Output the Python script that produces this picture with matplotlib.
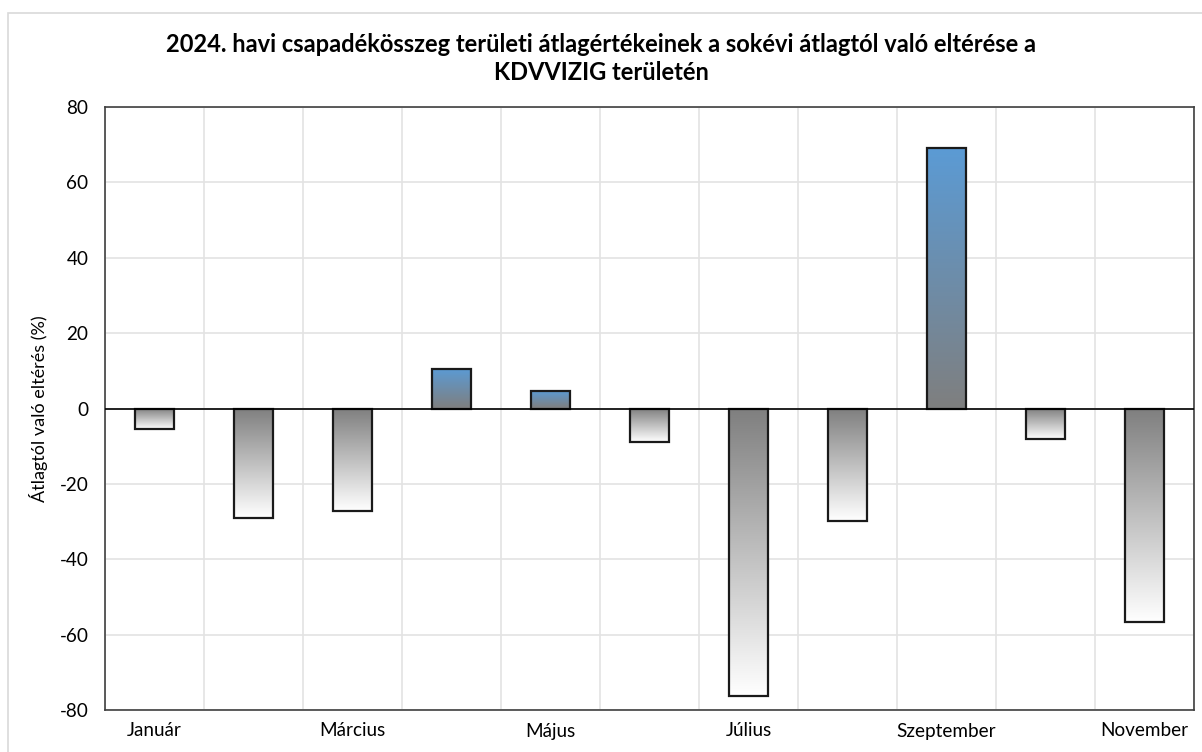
import matplotlib
matplotlib.use("Agg")
import matplotlib.pyplot as plt
import numpy as np
from matplotlib.colors import to_rgb
from matplotlib.patches import Rectangle

months = ["Január", "Február", "Március", "Április", "Május", "Június",
          "Július", "Augusztus", "Szeptember", "Október", "November"]
values = [-5.4, -29.0, -27.2, 10.5, 4.6, -8.9, -76.4, -29.8, 69.1, -8.1, -56.6]
yticks = [-80, -60, -40, -20, 0, 20, 40, 60, 80]

title = "2024. havi csapadékösszeg területi átlagértékeinek a sokévi átlagtól való eltérése a\nKDVVIZIG területén"
ylabel = "Átlagtól való eltérés (%)"

plt.rcParams['font.family'] = ['Lato', 'DejaVu Sans']

fig = plt.figure(figsize=(12.02, 7.52), dpi=100)
ax = fig.add_axes([105/1202, 42/752, 1089/1202, 603/752])

# outer chart border
fig.patches.append(Rectangle((8/1202, -0.05), 1.2, (752-12.5)/752 + 0.05,
                             transform=fig.transFigure, fill=False,
                             edgecolor='#D9D9D9', linewidth=1.2))

blue = np.array(to_rgb('#5B9BD5'))
gray = np.array(to_rgb('#7F7F7F'))
white = np.array(to_rgb('#FFFFFF'))
n = 256
t = np.linspace(0, 1, n)[:, None]

bw = 0.4
x = np.arange(len(months))
for xi, v in zip(x, values):
    if v >= 0:
        grad = gray * (1 - t) + blue * t
        ext = (xi - bw/2, xi + bw/2, 0, v)
    else:
        grad = white * (1 - t) + gray * t
        ext = (xi - bw/2, xi + bw/2, v, 0)
    img = grad[:, None, :]
    ax.imshow(img, extent=ext, origin='lower', aspect='auto', zorder=2,
              interpolation='bilinear')
ax.bar(x, values, width=bw, facecolor='none', edgecolor='#1a1a1a',
       linewidth=1.6, zorder=3)

ax.axhline(0, color='black', linewidth=1.2, zorder=4)

ax.set_xlim(-0.5, len(months) - 0.5)
ax.set_ylim(-80, 80)
ax.set_yticks(yticks)
ax.set_yticklabels([str(v) for v in yticks])
ax.set_xticks(x[::2])
ax.set_xticklabels(months[::2])
ax.set_xticks(np.arange(-0.5, len(months), 1.0), minor=True)
ax.tick_params(axis='both', which='both', length=0, labelsize=13.6, colors='black')
ax.tick_params(axis='x', pad=9)
ax.tick_params(axis='y', pad=12)

ax.grid(axis='y', which='major', color='#E3E3E3', linewidth=1.2, zorder=0)
ax.grid(axis='x', which='minor', color='#E3E3E3', linewidth=1.2, zorder=0)
ax.set_axisbelow(True)
for s in ax.spines.values():
    s.set_color('#404040')
    s.set_linewidth(1.2)

ax.set_ylabel(ylabel, fontsize=13, labelpad=8)

fig.text(0.5, 1 - 58.5/752, title, ha='center', va='center', fontsize=17,
         fontweight='bold', linespacing=1.25)

fig.savefig("out.png", dpi=100)
